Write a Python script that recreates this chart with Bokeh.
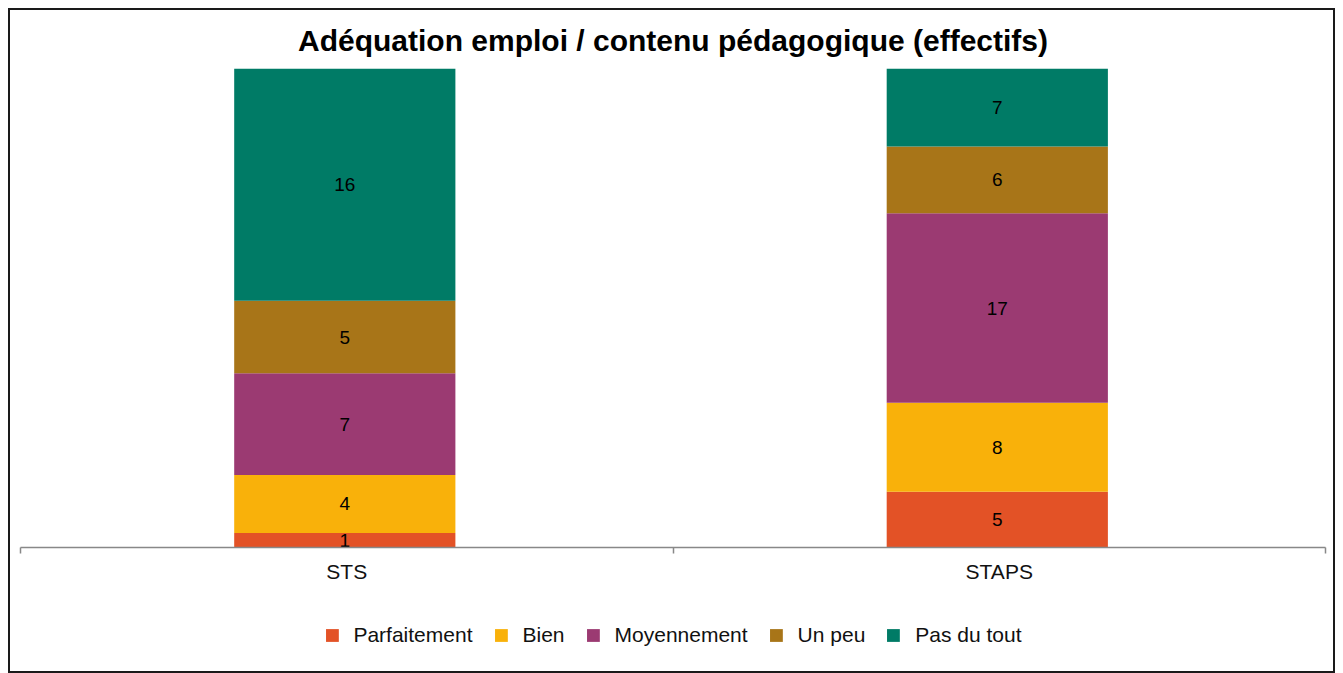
import numpy as np
from bokeh.plotting import figure
from bokeh.layouts import column
from bokeh.models import ColumnDataSource, FixedTicker, Legend, LegendItem, Range1d
from bokeh.embed import file_html
from bokeh.resources import INLINE
from bokeh.core.properties import value

categories = ["STS", "STAPS"]
levels = ["Parfaitement", "Bien", "Moyennement", "Un peu", "Pas du tout"]
parfaitement = [1, 5]
bien = [4, 8]
moyennement = [7, 17]
un_peu = [5, 6]
pas_du_tout = [16, 7]
colors = ["#E35226", "#F9B10A", "#9B3A72", "#A87518", "#007B66"]
title_text = "Adéquation emploi / contenu pédagogique (effectifs)"

FONT = "Liberation Sans"

counts = [parfaitement, bien, moyennement, un_peu, pas_du_tout]
totals = np.sum(np.array(counts), axis=0)
xpos = np.arange(len(categories)) + 0.5
data = {"x": xpos - 0.003}
for lev, c in zip(levels, counts):
    data[lev] = np.array(c) / totals
src = ColumnDataSource(data)

# ---- main chart ----
p = figure(frame_width=1305, frame_height=479, x_range=Range1d(0, len(categories)), y_range=Range1d(0, 1),
           output_backend="svg", toolbar_location=None,
           min_border_left=10, min_border_right=8, min_border_top=58, min_border_bottom=45)

renderers = p.vbar_stack(levels, x="x", width=0.339, color=colors, source=src, line_color=None)

lab_x, lab_y, lab_t = [], [], []
bottom = np.zeros(len(categories))
for lev, c in zip(levels, counts):
    frac = np.array(c) / totals
    for i in range(len(categories)):
        lab_x.append(data["x"][i])
        lab_y.append(bottom[i] + frac[i] / 2)
        lab_t.append(str(c[i]))
    bottom = bottom + frac
p.text(x=lab_x, y=lab_y, text=lab_t, text_align="center", text_baseline="middle",
       text_font=value(FONT), text_font_size="19px", text_color="black")

p.title.text = title_text
p.title.align = "center"
p.title.text_font = FONT
p.title.text_font_size = "30px"
p.title.text_font_style = "bold"
p.title.text_color = "black"
p.title.standoff = 23

p.yaxis.visible = False
p.xgrid.visible = False
p.ygrid.visible = False
p.outline_line_color = None

ax = p.xaxis[0]
ax.ticker = FixedTicker(ticks=list(xpos), minor_ticks=list(range(len(categories) + 1)))
ax.major_label_overrides = {float(xv): c for xv, c in zip(xpos, categories)}
ax.major_tick_out = 0
ax.major_tick_in = 0
ax.minor_tick_out = 6
ax.minor_tick_in = 0
ax.minor_tick_line_color = "#888888"
ax.minor_tick_line_width = 1.5
ax.axis_line_color = "#888888"
ax.axis_line_width = 1.5
ax.major_label_standoff = 6
ax.major_label_text_font = FONT
ax.major_label_text_font_size = "21px"
ax.major_label_text_color = "#111111"

# ---- legend strip ----
lf = figure(frame_width=1305, frame_height=79, x_range=Range1d(0, len(categories)), y_range=Range1d(0, 1),
            output_backend="svg", toolbar_location=None, x_axis_location=None, y_axis_location=None,
            min_border_left=10, min_border_right=8, min_border_top=0, min_border_bottom=0)
lf.xgrid.visible = False
lf.ygrid.visible = False
lf.outline_line_color = None
leg_renderers = lf.vbar_stack(levels, x="x", width=0.339, color=colors, source=src, line_color=None)
for r in leg_renderers:
    r.visible = False

legend = Legend(items=[LegendItem(label=lev, renderers=[r]) for lev, r in zip(levels, leg_renderers)],
                orientation="horizontal", location="top_center",
                glyph_width=16, glyph_height=16, label_standoff=14, spacing=20,
                label_text_font=FONT, label_text_font_size="21px", label_text_color="#111111",
                border_line_color=None, background_fill_alpha=0, padding=0, margin=31,
                inactive_fill_alpha=0)
lf.add_layout(legend)

layout = column(p, lf, spacing=0)
layout.styles = {"margin-left": "8px", "margin-top": "8px", "border": "2px solid #1a1a1a"}

open("out.html", "w").write(file_html(layout, INLINE))
